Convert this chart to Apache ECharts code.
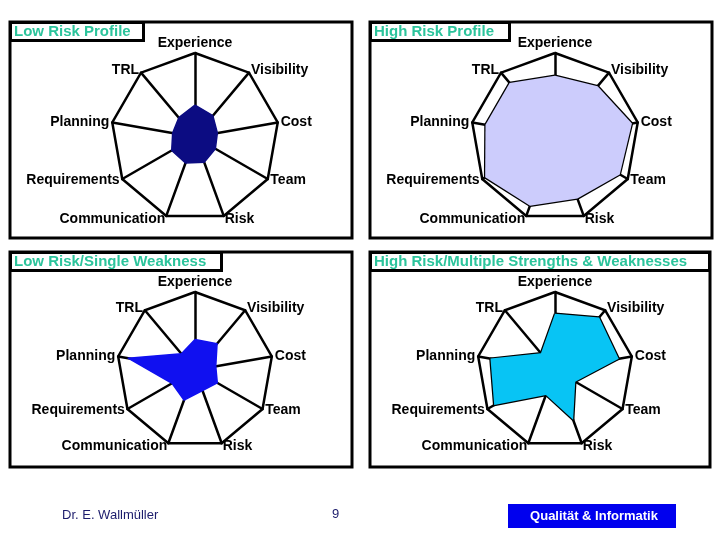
<!DOCTYPE html>
<html>
<head>
<meta charset="utf-8">
<script src="https://cdn.jsdelivr.net/npm/echarts@6/dist/echarts.min.js"></script>
<style>
    html, body { margin: 0; padding: 0; background: #fff; }
    #main { width: 720px; height: 540px; }
</style>
</head>
<body>
<div id="main"></div>
<script>
    // axes listed counterclockwise, starting at the top
    var axes = ['Experience', 'TRL', 'Planning', 'Requirements', 'Communication', 'Risk', 'Team', 'Cost', 'Visibility'];
    var titles = ['Low Risk Profile', 'High Risk Profile', 'Low Risk/Single Weakness', 'High Risk/Multiple Strengths & Weaknesses'];
    var lowRisk = [0.38, 0.30, 0.27, 0.32, 0.33, 0.32, 0.28, 0.27, 0.33];
    var highRisk = [0.73, 0.84, 0.84, 0.96, 0.87, 0.78, 0.89, 0.93, 0.79];
    var singleWeakness = [0.39, 0.27, 0.87, 0.34, 0.41, 0.28, 0.33, 0.27, 0.44];
    var multiple = [0.72, 0.28, 0.84, 0.90, 0.34, 0.68, 0.30, 0.83, 0.88];

    var profiles = [lowRisk, highRisk, singleWeakness, multiple];
    var fills = ['#0c0c82', '#ccccfc', '#1010f0', '#08c4f4'];
    var edges = ['#0c0c82', '#000', '#1010f0', '#000'];
    var centers = [[195, 137], [555, 137], [195, 370], [555, 370]];
    var radii = [84, 84, 78, 78];
    var titlePos = [[10, 22], [370, 22], [10, 252], [370, 252]];
    var titlePad = [[2, 13, 2, 4], [2, 16, 2, 4], [2, 15, 2, 4], [2, 23, 2, 4]];
    var frames = [[10, 22, 342, 216], [370, 22, 342, 216], [10, 252, 342, 215], [370, 252, 340, 215]];

    var font = '"Liberation Sans", Arial, sans-serif';

    var myChart = echarts.init(document.getElementById('main'));

    var radars = centers.map(function (c, i) {
        return {
            center: c,
            radius: radii[i],
            startAngle: 90,
            shape: 'polygon',
            splitNumber: 1,
            indicator: axes.map(function (n) { return {name: n, max: 1}; }),
            axisName: {color: '#000', fontSize: 14, fontFamily: font, fontWeight: 'bold'},
            nameGap: 3,
            axisLine: {lineStyle: {color: '#000', width: 2.5}},
            splitLine: {lineStyle: {color: '#000', width: 2.5}},
            splitArea: {show: false},
            axisTick: {show: false},
            axisLabel: {show: false}
        };
    });

    var series = profiles.map(function (vals, i) {
        return {
            type: 'radar',
            radarIndex: i,
            symbol: 'none',
            silent: true,
            lineStyle: {color: edges[i], width: i % 2 ? 2.5 : 1.5},
            areaStyle: {color: fills[i], opacity: 1},
            data: [{value: vals, name: titles[i]}]
        };
    });

    var graphics = frames.map(function (f) {
        return {
            type: 'rect',
            shape: {x: f[0], y: f[1], width: f[2], height: f[3]},
            style: {fill: 'none', stroke: '#000', lineWidth: 3},
            z: 0
        };
    });
    graphics.push(
        {type: 'text', left: 62, top: 509, style: {text: 'Dr. E. Wallmüller', fill: '#1c1c6c', font: '13px ' + font}},
        {type: 'text', left: 332, top: 508, style: {text: '9', fill: '#1c1c6c', font: '13px ' + font}},
        {type: 'rect', shape: {x: 508, y: 504, width: 168, height: 24}, style: {fill: '#0000ee'}},
        {type: 'text', x: 594, y: 516, style: {text: 'Qualität & Informatik', fill: '#fff', font: 'bold 13px ' + font, align: 'center', verticalAlign: 'middle'}}
    );

    var option = {
        backgroundColor: '#fff',
        animation: false,
        title: titles.map(function (t, i) {
            return {
                text: t,
                left: titlePos[i][0],
                top: titlePos[i][1],
                padding: titlePad[i],
                borderWidth: 3,
                borderColor: '#000',
                backgroundColor: '#fff',
                textStyle: {color: '#2cc49c', fontSize: 15, fontWeight: 'bold', fontFamily: font}
            };
        }),
        radar: radars,
        series: series,
        graphic: graphics
    };
    myChart.setOption(option);
</script>
</body>
</html>
